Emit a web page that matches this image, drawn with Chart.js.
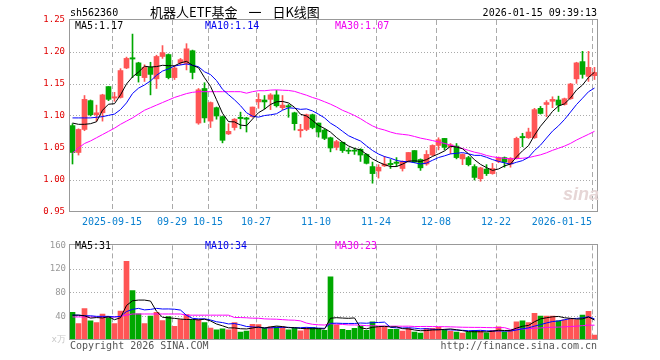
<!DOCTYPE html>
<html>
<head>
<meta charset="utf-8">
<script src="https://cdn.jsdelivr.net/npm/chart.js@4"></script>
<style>
  html, body { margin: 0; padding: 0; background: #fff; }
  #wrap { position: relative; width: 660px; height: 360px; overflow: hidden; background: #fff; }
  #wrap canvas { position: absolute; left: 0; }
  .t { position: absolute; font: 10px "DejaVu Sans Mono", monospace; line-height: 12px; white-space: pre; color: #000; }
</style>
</head>
<body>
<div id="wrap">
  <canvas id="kline" width="660" height="236" style="top:0"></canvas>
  <canvas id="vol" width="660" height="124" style="top:236px"></canvas>

  <div class="t" style="left:70px;top:7px">sh562360</div>
  <div class="t" style="left:150px;top:4px;font:13px 'Noto Sans CJK SC';line-height:16px;word-spacing:8px">机器人ETF基金 一 日K线图</div>
  <div class="t" style="right:63px;top:7px">2026-01-15 09:39:13</div>

  <div class="t" style="left:75px;top:20px">MA5:1.17</div>
  <div class="t" style="left:205px;top:20px;color:#0000f0">MA10:1.14</div>
  <div class="t" style="left:335px;top:20px;color:#f000f0">MA30:1.07</div>

  <div class="t" style="left:75px;top:240px">MA5:31</div>
  <div class="t" style="left:205px;top:240px;color:#0000f0">MA10:34</div>
  <div class="t" style="left:335px;top:240px;color:#f000f0">MA30:23</div>

  <div class="t" style="left:563px;top:184px;font:italic bold 18px 'Liberation Sans';line-height:20px;color:#e6d6d6">sina</div>

  <div class="t" style="left:70px;top:340px;color:#555">Copyright 2026 SINA.COM</div>
  <div class="t" style="right:63px;top:340px;color:#555">http://finance.sina.com.cn</div>
</div>

<script>
// daily k-line, 562360

const dates = [
  '2025-09-04','2025-09-05','2025-09-08','2025-09-09','2025-09-10','2025-09-11','2025-09-12',
  '2025-09-15','2025-09-16','2025-09-17','2025-09-18','2025-09-19',
  '2025-09-22','2025-09-23','2025-09-24','2025-09-25','2025-09-26',
  '2025-09-29','2025-09-30','2025-10-09','2025-10-10',
  '2025-10-13','2025-10-14','2025-10-15','2025-10-16','2025-10-17',
  '2025-10-20','2025-10-21','2025-10-22','2025-10-23','2025-10-24',
  '2025-10-27','2025-10-28','2025-10-29','2025-10-30','2025-10-31',
  '2025-11-03','2025-11-04','2025-11-05','2025-11-06','2025-11-07',
  '2025-11-10','2025-11-11','2025-11-12','2025-11-13','2025-11-14',
  '2025-11-17','2025-11-18','2025-11-19','2025-11-20','2025-11-21',
  '2025-11-24','2025-11-25','2025-11-26','2025-11-27','2025-11-28',
  '2025-12-01','2025-12-02','2025-12-03','2025-12-04','2025-12-05',
  '2025-12-08','2025-12-09','2025-12-10','2025-12-11','2025-12-12',
  '2025-12-15','2025-12-16','2025-12-17','2025-12-18','2025-12-19',
  '2025-12-22','2025-12-23','2025-12-24','2025-12-25','2025-12-26',
  '2025-12-29','2025-12-30','2025-12-31',
  '2026-01-05','2026-01-06','2026-01-07','2026-01-08','2026-01-09',
  '2026-01-12','2026-01-13','2026-01-14','2026-01-15'
];

const opens = [
  1.085,1.043,1.079,1.124,1.102,1.105,1.146,1.128,1.129,1.175,
  1.191,1.183,1.160,1.176,1.158,1.193,1.196,1.160,1.183,1.182,
  1.202,1.089,1.143,1.092,1.113,1.099,1.072,1.082,1.098,1.097,
  1.099,1.122,1.125,1.126,1.133,1.113,1.116,1.105,1.077,1.079,
  1.102,1.089,1.078,1.066,1.051,1.059,1.046,1.046,1.048,1.040,
  1.021,1.014,1.022,1.026,1.028,1.018,1.029,1.046,1.032,1.025,
  1.039,1.054,1.065,1.052,1.053,1.033,1.035,1.021,1.002,1.017,
  1.010,1.029,1.035,1.025,1.034,1.068,1.066,1.066,1.112,1.118,
  1.123,1.125,1.118,1.127,1.158,1.185,1.162,1.163
];
const highs = [
  1.088,1.080,1.132,1.125,1.117,1.134,1.146,1.137,1.174,1.192,
  1.228,1.184,1.180,1.184,1.195,1.210,1.197,1.179,1.190,1.213,
  1.203,1.143,1.152,1.122,1.114,1.100,1.088,1.096,1.106,1.098,
  1.114,1.135,1.132,1.135,1.140,1.132,1.118,1.106,1.087,1.103,
  1.103,1.089,1.080,1.067,1.062,1.059,1.050,1.050,1.049,1.041,
  1.028,1.024,1.037,1.032,1.035,1.030,1.043,1.046,1.033,1.046,
  1.055,1.066,1.065,1.057,1.057,1.041,1.037,1.024,1.020,1.024,
  1.026,1.036,1.036,1.035,1.067,1.073,1.081,1.112,1.115,1.124,
  1.130,1.131,1.128,1.151,1.184,1.201,1.201,1.176
];
const lows = [
  1.025,1.039,1.077,1.100,1.092,1.092,1.124,1.123,1.128,1.174,
  1.160,1.153,1.154,1.133,1.143,1.190,1.158,1.157,1.180,1.172,
  1.158,1.087,1.090,1.082,1.095,1.058,1.071,1.078,1.080,1.075,
  1.098,1.112,1.111,1.110,1.114,1.110,1.098,1.078,1.067,1.077,
  1.080,1.067,1.063,1.044,1.047,1.043,1.041,1.040,1.029,1.025,
  0.995,1.003,1.021,1.018,1.021,1.014,1.028,1.027,1.015,1.023,
  1.038,1.047,1.047,1.041,1.033,1.024,1.022,1.000,0.998,1.007,
  1.009,1.027,1.020,1.020,1.033,1.052,1.065,1.065,1.103,1.099,
  1.113,1.107,1.117,1.126,1.151,1.159,1.154,1.157
];
const closes = [
  1.043,1.079,1.126,1.102,1.105,1.133,1.126,1.130,1.171,1.190,
  1.189,1.163,1.176,1.165,1.193,1.199,1.160,1.175,1.188,1.205,
  1.168,1.141,1.097,1.121,1.100,1.062,1.076,1.095,1.096,1.095,
  1.114,1.126,1.122,1.133,1.116,1.117,1.114,1.088,1.079,1.102,
  1.082,1.075,1.065,1.050,1.060,1.046,1.045,1.045,1.039,1.026,
  1.010,1.020,1.025,1.024,1.026,1.029,1.043,1.028,1.019,1.040,
  1.054,1.063,1.051,1.055,1.035,1.040,1.024,1.004,1.019,1.010,
  1.018,1.035,1.028,1.034,1.065,1.066,1.075,1.110,1.104,1.121,
  1.126,1.117,1.127,1.150,1.183,1.165,1.176,1.168
];
// volume, 万手
const volumes = [
  46.9,27.7,53.3,32.5,29.3,43.7,38.4,27.7,49.0,133.0,
  83.7,44.3,27.7,40.5,46.9,33.0,39.5,23.0,34.7,43.2,
  34.0,34.7,29.3,20.3,17.0,18.7,17.0,29.3,13.3,15.0,
  26.7,26.0,20.3,22.4,22.4,22.4,17.0,20.3,15.5,20.8,
  21.3,18.7,16.5,106.7,25.6,18.1,16.5,19.7,23.5,16.5,
  30.9,22.4,22.4,18.1,18.1,15.0,20.3,13.3,11.7,19.7,
  19.7,21.3,17.6,15.0,13.3,11.7,13.3,16.5,15.0,12.3,
  16.5,22.4,13.9,16.5,30.9,32.5,29.3,45.3,40.5,40.5,
  40.5,32.5,34.1,35.7,34.1,42.1,48.5,8.5
];

// MA values before a full window exists (history not shown)
const ma5Head = [1.089, 1.087, 1.087, 1.088];
const ma10Head = [1.097, 1.097, 1.097, 1.097, 1.098, 1.099, 1.101, 1.103, 1.110];
const ma30Head = [
  1.042,1.050,1.057,1.061,1.066,1.071,1.076,1.081,1.087,1.092,
  1.097,1.103,1.109,1.113,1.117,1.121,1.125,1.129,1.132,1.135,
  1.137,1.138,1.138,1.138,1.138,1.138,1.138,1.138,1.138
];
const vma5Head = [42, 42, 41, 37];
const vma10Head = [42, 42, 41, 41, 40, 40, 40, 39, 40];
const vma30Head = [
  39,39,39,39,39,39,39,39,40,42,
  44,44,44,44,44,44,44,44,44,42,
  42,42,42,42,42,42,42,38,38
];

const tickDates = ['2025-09-15','2025-09-29','2025-10-15','2025-10-27','2025-11-10','2025-11-24','2025-12-08','2025-12-22','2026-01-15'];
const tickLabels = ['2025-09-15','09-29','10-15','10-27','11-10','11-24','12-08','12-22','2026-01-15'];
const priceTicks = [0.95, 1.00, 1.05, 1.10, 1.15, 1.20, 1.25];
const volTicks = [0, 40, 80, 120, 160];

const RED = '#ff5555', GREEN = '#00a800';
const MONO = 'DejaVu Sans Mono';

const mean = a => a.reduce((s, v) => s + v, 0) / a.length;
function movingAverage(src, n, head) {
  return src.map((v, i) => i < n - 1 ? head[i] : mean(src.slice(i - n + 1, i + 1)));
}

const tickIndex = tickDates.map(d => dates.indexOf(d));
const candleColors = closes.map((c, i) => c >= opens[i] ? RED : GREEN);

// each day owns a 6px slot, sina puts the 5px body at its left side
const SLOT = 5 / 12;
const pts = arr => arr.map((y, i) => ({ x: i + SLOT, y: y }));

const frame = {
  id: 'frame',
  afterDraw(chart) {
    const { ctx, chartArea: a } = chart;
    ctx.save();
    ctx.strokeStyle = '#999';
    ctx.lineWidth = 1;
    ctx.strokeRect(Math.round(a.left) - 0.5, Math.round(a.top) - 0.5, Math.round(a.width), Math.round(a.height));
    ctx.restore();
  }
};

function maLine(data, color) {
  return { type: 'line', data: pts(data), borderColor: color, borderWidth: 1, pointRadius: 0, tension: 0, order: 0 };
}

function dateAxis(showLabels) {
  return {
    type: 'linear', min: 0, max: dates.length, offset: false,
    afterBuildTicks: ax => { ax.ticks = [0].concat(tickIndex).map(v => ({ value: v })); },
    afterFit: ax => { ax.height = showLabels ? 24 : 0; },
    grid: { offset: false, drawTicks: false, lineWidth: 1,
            color: c => (c.tick && c.tick.value > 0) ? '#aaa' : 'rgba(0,0,0,0)' },
    border: { display: false, dash: [5, 3] },
    ticks: {
      display: showLabels, autoSkip: false, maxRotation: 0, minRotation: 0, align: 'inner',
      padding: 4, color: '#0a80d0', font: { family: MONO, size: 10 },
      callback: v => { const k = tickIndex.indexOf(v); return k < 0 ? '' : tickLabels[k]; }
    }
  };
}

const ma5 = movingAverage(closes, 5, ma5Head);
const ma10 = movingAverage(closes, 10, ma10Head);
const ma30 = movingAverage(closes, 30, ma30Head);

new Chart(document.getElementById('kline'), {
  type: 'bar',
  data: {
    datasets: [
      maLine(ma5, '#000'),
      maLine(ma10, '#0000ff'),
      maLine(ma30, '#ff00ff'),
      {
        data: opens.map((o, i) => ({ x: i + SLOT, y: [o, closes[i]] })),
        backgroundColor: candleColors, barThickness: 5, minBarLength: 1, grouped: false, order: 1
      },
      {
        data: lows.map((l, i) => ({ x: i + SLOT, y: [l, highs[i]] })),
        backgroundColor: candleColors, barThickness: 1, grouped: false, order: 2
      }
    ]
  },
  options: {
    responsive: false,
    animation: false,
    layout: { padding: { left: 0, right: 62, top: 20, bottom: 0 } },
    plugins: { legend: { display: false }, tooltip: { enabled: false } },
    scales: {
      x: dateAxis(true),
      y: {
        min: 0.95, max: 1.25,
        afterBuildTicks: ax => { ax.ticks = priceTicks.map(v => ({ value: v })); },
        afterFit: ax => { ax.width = 70; },
        grid: { drawTicks: false,
                color: c => (c.tick && c.tick.value > 0.96 && c.tick.value < 1.24) ? '#aaa' : 'rgba(0,0,0,0)' },
        border: { display: false, dash: [1, 2] },
        ticks: { padding: 5, color: '#e00000', font: { family: MONO, size: 9 }, callback: v => v.toFixed(2) }
      }
    }
  },
  plugins: [frame]
});

const vma5 = movingAverage(volumes, 5, vma5Head);
const vma10 = movingAverage(volumes, 10, vma10Head);
const vma30 = movingAverage(volumes, 30, vma30Head);

new Chart(document.getElementById('vol'), {
  type: 'bar',
  data: {
    datasets: [
      maLine(vma5, '#000'),
      maLine(vma10, '#0000ff'),
      maLine(vma30, '#ff00ff'),
      { data: pts(volumes), backgroundColor: candleColors, barThickness: 5, grouped: false, order: 1 }
    ]
  },
  options: {
    responsive: false,
    animation: false,
    layout: { padding: { left: 0, right: 62, top: 4, bottom: 20 } },
    plugins: { legend: { display: false }, tooltip: { enabled: false } },
    scales: {
      x: dateAxis(false),
      y: {
        min: 0, max: 160,
        afterBuildTicks: ax => { ax.ticks = volTicks.map(v => ({ value: v })); },
        afterFit: ax => { ax.width = 70; },
        grid: { drawTicks: false,
                color: c => (c.tick && c.tick.value > 0 && c.tick.value < 160) ? '#aaa' : 'rgba(0,0,0,0)' },
        border: { display: false, dash: [1, 2] },
        ticks: {
          padding: 4, font: { family: MONO, size: 9 },
          color: c => (c.tick && c.tick.value === 0) ? '#c8c8c8' : '#999',
          callback: v => v === 0 ? 'x万' : String(v)
        }
      }
    }
  },
  plugins: [frame]
});
</script>
</body>
</html>
